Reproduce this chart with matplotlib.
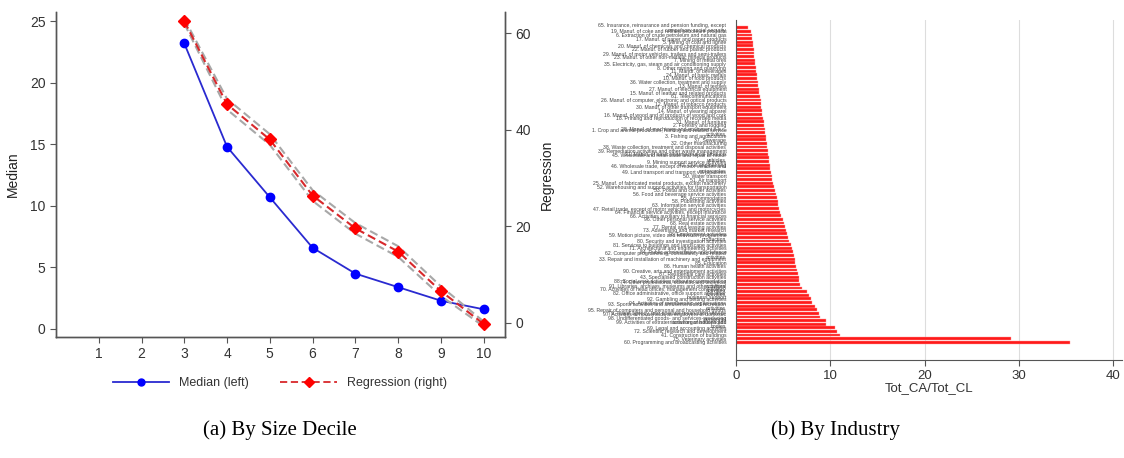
import textwrap

import numpy as np
import matplotlib.pyplot as plt
from matplotlib.lines import Line2D

plt.rcParams["font.family"] = ["Liberation Sans", "DejaVu Sans"]

# %%
# Panel (a): by size decile
decile = [3, 4, 5, 6, 7, 8, 9, 10]
median_left = [23.2, 14.8, 10.7, 6.6, 4.5, 3.4, 2.3, 1.6]
regression_right = [62.5, 45.3, 38.0, 26.4, 19.6, 14.8, 6.6, -0.2]
reg_lower = [62.0, 44.2, 36.9, 25.3, 18.5, 13.7, 5.6, -0.7]
reg_upper = [63.0, 46.4, 39.1, 27.5, 20.7, 15.9, 7.6, 0.3]

# %%
# Panel (b): by industry (NACE division), top to bottom
industry = [
    "65. Insurance, reinsurance and pension funding, except compulsory social security",
    "19. Manuf. of coke and refined petroleum products",
    "6. Extraction of crude petroleum and natural gas",
    "17. Manuf. of paper and paper products",
    "5. Mining of coal and lignite",
    "20. Manuf. of chemicals and chemical products",
    "22. Manuf. of rubber and plastic products",
    "29. Manuf. of motor vehicles, trailers and semi-trailers",
    "23. Manuf. of other non-metallic mineral products",
    "7. Mining of metal ores",
    "35. Electricity, gas, steam and air conditioning supply",
    "8. Other mining and quarrying",
    "11. Manuf. of beverages",
    "24. Manuf. of basic metals",
    "10. Manuf. of food products",
    "36. Water collection, treatment and supply",
    "13. Manuf. of textiles",
    "27. Manuf. of electrical equipment",
    "15. Manuf. of leather and related products",
    "61. Telecommunications",
    "26. Manuf. of computer, electronic and optical products",
    "12. Manuf. of tobacco products",
    "30. Manuf. of other transport equipment",
    "14. Manuf. of wearing apparel",
    "16. Manuf. of wood and of products of wood and cork",
    "18. Printing and reproduction of recorded media",
    "31. Manuf. of furniture",
    "2. Forestry and logging",
    "28. Manuf. of machinery and equipment n.e.c.",
    "1. Crop and animal production, hunting and related service activities",
    "3. Fishing and aquaculture",
    "37. Sewerage",
    "32. Other manufacturing",
    "38. Waste collection, treatment and disposal activities",
    "39. Remediation activities and other waste management",
    "21. Manuf. of basic pharmaceutical products",
    "45. Wholesale and retail trade and repair of motor vehicles",
    "9. Mining support service activities",
    "42. Civil engineering",
    "46. Wholesale trade, except of motor vehicles and motorcycles",
    "49. Land transport and transport via pipelines",
    "50. Water transport",
    "51. Air transport",
    "25. Manuf. of fabricated metal products, except machinery",
    "52. Warehousing and support activities for transportation",
    "53. Postal and courier activities",
    "56. Food and beverage service activities",
    "55. Accommodation",
    "58. Publishing activities",
    "63. Information service activities",
    "47. Retail trade, except of motor vehicles and motorcycles",
    "64. Financial service activities, except insurance",
    "66. Activities auxiliary to financial services",
    "96. Other personal service activities",
    "68. Real estate activities",
    "77. Rental and leasing activities",
    "73. Advertising and market research",
    "78. Employment activities",
    "59. Motion picture, video and television programme production",
    "80. Security and investigation activities",
    "81. Services to buildings and landscape activities",
    "71. Architectural and engineering activities",
    "84. Public administration and defence",
    "62. Computer programming, consultancy and related activities",
    "33. Repair and installation of machinery and equipment",
    "85. Education",
    "86. Human health activities",
    "90. Creative, arts and entertainment activities",
    "87. Residential care activities",
    "43. Specialised construction activities",
    "88. Social work activities without accommodation",
    "74. Other professional, scientific and technical activities",
    "91. Libraries, archives, museums and other cultural activities",
    "70. Activities of head offices; management consultancy activities",
    "82. Office administrative, office support and other business support",
    "92. Gambling and betting activities",
    "94. Activities of membership organisations",
    "93. Sports activities and amusement and recreation activities",
    "95. Repair of computers and personal and household goods",
    "79. Travel agency, tour operator reservation service",
    "97. Activities of households as employers of domestic personnel",
    "98. Undifferentiated goods- and services-producing activities of households",
    "99. Activities of extraterritorial organisations and bodies",
    "69. Legal and accounting activities",
    "72. Scientific research and development",
    "41. Construction of buildings",
    "75. Veterinary activities",
    "60. Programming and broadcasting activities",
]
ratio = [
    1.3, 1.6, 1.7, 1.7, 1.8, 1.8, 1.9, 1.9, 1.9, 2.0, 2.0, 2.1, 2.1, 2.2, 2.2,
    2.3, 2.3, 2.4, 2.4, 2.5, 2.6, 2.6, 2.7, 2.8, 2.8,
    2.9, 3.0, 3.0, 3.1, 3.1, 3.2, 3.2, 3.3, 3.3, 3.4, 3.4, 3.5, 3.5, 3.6, 3.6,
    3.7, 3.8, 3.8, 3.9, 4.0,
    4.1, 4.2, 4.3, 4.4, 4.5, 4.6, 4.7, 4.8, 5.0, 5.1, 5.2,
    5.3, 5.4, 5.5, 5.6, 5.8, 5.9, 6.0, 6.1, 6.2, 6.3, 6.4, 6.5, 6.6, 6.7, 6.7,
    6.8, 7.0, 7.5, 7.7, 7.9, 8.1, 8.4, 8.6, 8.8, 8.9, 9.5, 9.5, 10.5, 10.7,
    11.0, 29.1, 35.4,
]

fig = plt.figure(figsize=(11.24, 4.58), dpi=100)
spine_col = "#555555"
text_col = "#333333"

# %%
# Left panel
ax = fig.add_axes([0.0498, 0.2642, 0.3995, 0.7096])
ax2 = ax.twinx()

ax.plot(decile, median_left, color="#2a2ad0", lw=1.3, marker="o", ms=6,
        mfc="#0000ff", mec="#0000ff", zorder=3)
ax2.plot(decile, reg_lower, color="#a8a8a8", lw=1.5, ls=(0, (4, 2)), zorder=1)
ax2.plot(decile, reg_upper, color="#a8a8a8", lw=1.5, ls=(0, (4, 2)), zorder=1)
ax2.plot(decile, regression_right, color="#d8282b", lw=1.5, ls=(0, (4, 2)),
         marker="D", ms=6, mfc="#ff0000", mec="#ff0000", zorder=3)

ax.set_xlim(0, 10.5)
ax.set_ylim(-0.65, 25.75)
ax2.set_ylim(-2.9, 64.4)
ax.set_xticks(range(1, 11))
ax.set_yticks([0, 5, 10, 15, 20, 25])
ax2.set_yticks([0, 20, 40, 60])
ax.set_ylabel("Median", fontsize=10, color="#222222", labelpad=7)
ax2.set_ylabel("Regression", fontsize=10, color="#222222", labelpad=6)

for a in (ax, ax2):
    a.spines["top"].set_visible(False)
    for s in ("left", "right", "bottom"):
        a.spines[s].set_color(spine_col)
        a.spines[s].set_linewidth(1.0)
    a.tick_params(colors=spine_col, labelcolor=text_col, labelsize=10,
                  length=4, width=0.8)

handles = [
    Line2D([], [], color="#2a2ad0", lw=1.3, marker="o", ms=5, mfc="#0000ff",
           mec="#0000ff"),
    Line2D([], [], color="#d8282b", lw=1.3, ls=(0, (4, 2)), marker="D", ms=5,
           mfc="#ff0000", mec="#ff0000"),
]
fig.legend(handles, ["Median (left)", "Regression (right)"], loc="center",
           bbox_to_anchor=(0.249, 0.163), ncol=2, frameon=False, fontsize=9,
           handlelength=4.5, columnspacing=2.5, labelcolor=text_col)

fig.text(0.249, 0.06, "(a) By Size Decile", ha="center", va="center",
         fontsize=15, family="Liberation Serif")

# %%
# Right panel
bx = fig.add_axes([0.6548, 0.214, 0.3434, 0.742])
pos = np.arange(len(industry))
bx.barh(pos, ratio, height=0.8, color="#ff1a1a", edgecolor="#ff9a9a",
        linewidth=0.3, zorder=2)
bx.set_ylim(91.9, -2.1)
bx.set_xlim(0, 40.9)
bx.set_xticks([0, 10, 20, 30, 40])
bx.xaxis.grid(True, color="#dddddd", lw=0.8, zorder=0)
bx.set_yticks(pos)
bx.set_yticklabels([textwrap.fill(s, 58) for s in industry], fontsize=3.7,
                   color="#444444", linespacing=0.85)
bx.tick_params(axis="y", length=0, pad=7)
bx.tick_params(axis="x", colors=spine_col, labelcolor=text_col, labelsize=9.5,
               length=4, width=0.8)
bx.set_xlabel("Tot_CA/Tot_CL", fontsize=9.5, color=text_col, labelpad=0)
for s in ("top", "right"):
    bx.spines[s].set_visible(False)
for s in ("left", "bottom"):
    bx.spines[s].set_color(spine_col)

fig.text(0.743, 0.06, "(b) By Industry", ha="center", va="center",
         fontsize=15, family="Liberation Serif")

plt.savefig("out.png", dpi=100)
